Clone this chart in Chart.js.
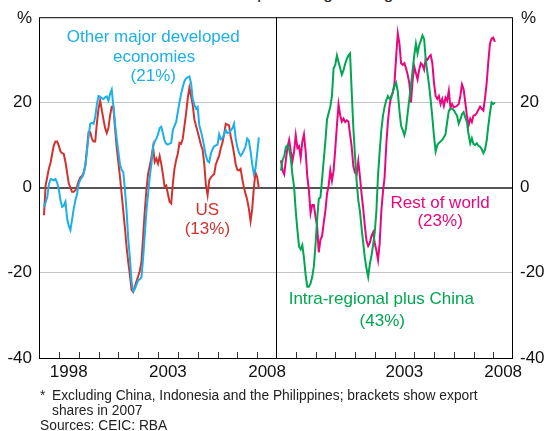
<!DOCTYPE html>
<html>
<head>
<meta charset="utf-8">
<script src="https://cdn.jsdelivr.net/npm/chart.js@4"></script>
<style>
body { margin: 0; background: #fff; font-family: "Liberation Sans", Arial, sans-serif; }
#wrap { position: relative; width: 548px; height: 431px; overflow: hidden; }
canvas { position: absolute; top: 0; }
#left { left: 0; }
#right { left: 276px; }
#title { position: absolute; left: 0; width: 568px; top: -15px; text-align: center; font-size: 17px; line-height: 17px; color: #222; }
.note { position: absolute; font-size: 13.8px; line-height: 15px; color: #222; white-space: nowrap; }
</style>
</head>
<body>
<div id="wrap">
  <div id="title">Year-ended percentage change</div>
  <canvas id="left" width="300" height="431"></canvas>
  <canvas id="right" width="272" height="431"></canvas>
  <div class="note" style="left:40px; top:388px">*</div>
  <div class="note" style="left:52px; top:388px">Excluding China, Indonesia and the Philippines; brackets show export<br>shares in 2007</div>
  <div class="note" style="left:40px; top:418px">Sources: CEIC: RBA</div>
</div>
<script>
// monthly observations, Apr 1997 to Feb 2008
const months = [];
for (let k = 3; k <= 133; k++) months.push(1997 + k / 12);

const otherDeveloped = [
  -4.6, -3.5, -2.2, 0.8, 2.0, 1.9, 1.7, 2.0, 1.2, -0.5, -3.0, -4.5,
  -4.2, -3.3, -7.2, -9.0, -10.0, -7.5, -5.0, -3.0, -1.5, 0.8, 1.9, 2.4,
  3.2, 5.0, 8.5, 12.0, 15.0, 15.2, 15.0, 16.5, 19.5, 21.5, 21.3, 21.0,
  20.8, 21.2, 21.4, 20.4, 22.0, 23.0, 19.0, 15.0, 11.5, 8.5, 5.5, 4.2,
  3.6, -0.5, -5.5, -12.0, -16.5, -22.0, -24.3, -23.8, -22.8, -21.8, -21.5, -21.0,
  -16.5, -11.0, -5.5, -1.5, 2.5, 5.5, 9.5, 10.8, 11.5, 12.5, 14.0, 14.3,
  12.7, 11.0, 10.3, 10.1, 10.3, 10.5, 13.5, 14.5, 15.4, 17.8, 20.0, 22.0,
  23.6, 25.0, 25.6, 25.9, 26.1, 24.5, 20.8, 19.5, 18.5, 18.9, 14.6, 13.2,
  11.5, 9.5, 7.5, 6.2, 5.9, 8.0, 9.0, 9.7, 9.9, 10.1, 12.5, 11.3,
  11.6, 12.5, 13.5, 12.8, 12.9, 13.4, 13.9, 15.0, 11.5, 9.5, 8.2, 7.5,
  8.0, 8.8, 9.7, 11.5, 11.0, 8.5, 5.5, 3.2, 4.5, 8.0, 11.8
];
const us = [
  -6.5, 0.5, 2.5, 4.5, 5.8, 8.0, 10.0, 10.8, 10.8, 9.8, 8.5, 8.1,
  7.9, 6.0, 3.5, 1.0, 0.0, -1.0, -1.0, -0.6, 0.3, 1.5, 2.4, 2.7,
  3.5, 5.2, 9.0, 13.0, 13.0, 11.5, 10.8, 10.8, 15.0, 18.5, 20.4, 18.2,
  16.0, 14.0, 12.8, 14.0, 16.9, 19.0, 19.0, 14.0, 9.5, 6.0, 2.5, -1.5,
  -5.5, -9.5, -14.0, -17.5, -20.5, -24.0, -24.5, -23.3, -22.0, -20.8, -19.5, -17.4,
  -11.5, -5.5, -0.5, 3.2, 5.0, 7.0, 9.5, 6.0, 6.8, 5.6, 7.4, 5.5,
  3.0, 0.2, 0.5, -1.5, -3.3, -3.7, 1.0, 4.5, 6.5, 8.0, 10.5, 10.3,
  11.5, 14.5, 17.5, 21.0, 23.4, 21.5, 19.5, 16.0, 14.5, 13.1, 11.5, 10.0,
  8.9, 5.5, 0.5, -1.8, 1.7, 2.4, 2.8, 3.2, 5.5, 6.5, 7.5, 9.3,
  10.5, 12.5, 15.0, 14.8, 14.6, 12.0, 10.2, 8.0, 5.5, 4.2, 4.0, 4.4,
  2.0, 0.0, -1.5, -2.9, -5.0, -7.9, -5.0, 0.0, 3.5, 2.5, -0.2
];
const intraRegional = [
  4.0, 6.5, 7.4, 9.5, 10.0, 9.0, 6.8, 3.0, 0.1, -5.5, -10.0, -13.8,
  -14.5, -13.5, -16.5, -20.5, -23.3, -23.3, -22.5, -21.0, -18.5, -13.5, -7.5, -2.6,
  -2.3, 2.0, 6.5, 10.8, 16.0, 17.5, 19.0, 21.5, 28.0, 28.8, 31.0, 29.5,
  28.0, 26.5, 27.5, 29.0, 30.2, 31.0, 31.5, 22.5, 14.0, 7.5, 1.5, -3.0,
  -5.5, -9.5, -13.0, -16.5, -19.0, -21.0, -18.0, -16.0, -13.5, -10.5, -5.5, 3.0,
  8.5, 13.5, 16.9, 19.0, 20.5, 21.5, 20.8, 21.0, 22.5, 23.8, 24.6, 22.5,
  18.0, 14.5, 13.5, 12.3, 14.0, 17.5, 20.8, 24.0, 27.5, 31.0, 33.8, 31.5,
  33.4, 34.5, 35.7, 34.9, 30.0, 27.0, 24.0, 20.5, 16.5, 12.0, 8.5, 10.0,
  10.5, 10.8, 11.2, 11.8, 12.5, 15.4, 18.0, 18.5, 18.5, 18.2, 17.5, 16.9,
  15.0, 16.0, 17.2, 17.7, 16.5, 15.4, 12.5, 10.4, 11.6, 10.2, 10.0, 10.4,
  9.8, 9.6, 9.0, 8.1, 8.9, 11.0, 14.5, 17.5, 20.0, 19.6, 20.0
];
const restOfWorld = [
  6.4, 4.0, 3.1, 6.5, 9.5, 11.2, 8.5, 6.2, 8.5, 12.3, 9.3, 9.7,
  7.0, 10.8, 12.5, 8.5, 2.7, -0.7, -6.0, -4.1, -4.1, -6.8, -9.1, -15.2,
  -12.2, -11.4, -8.3, -5.5, -1.5, 0.5, 4.0, 1.6, 4.0, 9.0, 14.5, 19.5,
  17.0, 15.5, 16.2, 15.4, 15.8, 15.5, 12.5, 9.5, 5.0, 3.5, 3.1, 6.2,
  2.5, -1.5, -5.0, -9.1, -12.5, -13.7, -13.0, -11.4, -10.5, -13.0, -14.8, -17.0,
  -13.0, -5.5, -1.0, 2.5, 10.0, 15.5, 19.2, 21.5, 22.3, 24.6, 30.7, 36.2,
  33.8, 29.2, 28.8, 29.2, 28.0, 26.5, 24.6, 20.0, 25.0, 28.4, 26.9, 25.4,
  27.7, 29.2, 28.8, 27.7, 30.3, 30.0, 30.7, 31.1, 29.2, 24.6, 21.5, 20.8,
  21.5, 19.6, 20.8, 19.2, 21.1, 20.4, 22.7, 18.8, 19.6, 18.8, 19.0, 19.2,
  19.6, 21.5, 24.2, 23.1, 20.0, 16.9, 14.6, 16.2, 15.4, 16.9, 17.0, 17.5,
  18.3, 19.0, 18.5, 18.1, 21.0, 24.5, 29.5, 33.8, 35.0, 35.2, 34.2
];

const yearTicks = [1998, 1999, 2000, 2001, 2002, 2003, 2004, 2005, 2006, 2007, 2008];
const leftYearLabels = [1998, 2003, 2008];
const rightYearLabels = [2003, 2008];

const FONT = '"Liberation Sans", Arial, sans-serif';
const BLUE = '#1cafe8', RED = '#d0332f', PINK = '#e8077f', GREEN = '#00a651';

// box round the panel, inward year ticks, % sign and series labels
const framePlugin = {
  id: 'frame',
  afterDatasetsDraw(chart, args, opts) {
    const { ctx, chartArea: a, scales } = chart;
    ctx.save();
    ctx.strokeStyle = '#000';
    ctx.lineWidth = 1;
    ctx.strokeRect(a.left + 0.5, a.top + 0.5, a.right - a.left - 1, a.bottom - a.top);
    ctx.strokeStyle = '#333';
    ctx.beginPath();
    yearTicks.forEach(y => {
      const px = Math.round(scales.x.getPixelForValue(y)) + 0.5;
      ctx.moveTo(px, a.bottom);
      ctx.lineTo(px, a.bottom - 6);
    });
    ctx.stroke();

    ctx.font = '17px ' + FONT;
    ctx.fillStyle = '#111';
    ctx.textBaseline = 'middle';
    if (opts.side === 'left') {
      ctx.textAlign = 'right';
      ctx.fillText('%', a.left - 7, 18);
    } else {
      ctx.textAlign = 'left';
      ctx.fillText('%', a.right + 8, 18);
    }

    ctx.textAlign = 'center';
    (opts.labels || []).forEach(l => {
      ctx.fillStyle = l.color;
      ctx.fillText(l.text, scales.x.getPixelForValue(l.x), scales.y.getPixelForValue(l.y));
    });
    ctx.restore();
  }
};

function makeChart(id, side, series, yearLabels, labels) {
  return new Chart(document.getElementById(id), {
    type: 'line',
    data: {
      datasets: series.map(s => ({
        label: s.name,
        data: months.map((m, i) => ({ x: m, y: s.values[i] })),
        borderColor: s.color,
        borderWidth: 2,
        pointRadius: 0,
        tension: 0,
        fill: false
      }))
    },
    options: {
      responsive: false,
      animation: false,
      devicePixelRatio: 1,
      layout: { padding: { top: 10, left: 0, right: side === 'left' ? 23 : 0, bottom: 0 } },
      plugins: {
        legend: { display: false },
        tooltip: { enabled: false },
        frame: { side: side, labels: labels }
      },
      scales: {
        x: {
          type: 'linear',
          min: 1997,
          max: 2009,
          grid: { display: false, drawTicks: false },
          border: { display: false },
          afterBuildTicks: sc => { sc.ticks = yearLabels.map(y => ({ value: y + 0.5 })); },
          afterFit: sc => { sc.height = 73; },
          ticks: {
            autoSkip: false,
            maxRotation: 0,
            padding: 4,
            color: '#111',
            font: { size: 17, family: FONT },
            callback: v => String(Math.floor(v))
          }
        },
        y: {
          position: side,
          min: -40,
          max: 40,
          afterFit: sc => { sc.width = side === 'left' ? 39 : 35; },
          border: { display: false },
          grid: {
            drawTicks: false,
            color: c => c.tick.value === 0 ? '#555' : (Math.abs(c.tick.value) === 40 ? 'rgba(0,0,0,0)' : '#c4c4c4'),
            lineWidth: c => c.tick.value === 0 ? 2 : 1
          },
          ticks: {
            stepSize: 20,
            padding: 7,
            color: '#111',
            font: { size: 17, family: FONT },
            callback: v => v === 40 ? '' : String(v)
          }
        }
      }
    },
    plugins: [framePlugin]
  });
}

makeChart('left', 'left',
  [
    { name: 'Other major developed economies', values: otherDeveloped, color: BLUE },
    { name: 'US', values: us, color: RED }
  ],
  leftYearLabels,
  [
    { text: 'Other major developed', x: 2002.76, y: 35.2, color: BLUE },
    { text: 'economies', x: 2002.8, y: 30.6, color: BLUE },
    { text: '(21%)', x: 2002.76, y: 26.2, color: BLUE },
    { text: 'US', x: 2005.49, y: -5.3, color: RED },
    { text: '(13%)', x: 2005.49, y: -9.9, color: RED }
  ]
);

makeChart('right', 'right',
  [
    { name: 'Intra-regional plus China', values: intraRegional, color: GREEN },
    { name: 'Rest of world', values: restOfWorld, color: PINK }
  ],
  rightYearLabels,
  [
    { text: 'Rest of world', x: 2005.31, y: -3.7, color: PINK },
    { text: '(23%)', x: 2005.31, y: -8.0, color: PINK },
    { text: 'Intra-regional plus China', x: 2002.33, y: -26.3, color: GREEN },
    { text: '(43%)', x: 2002.38, y: -31.3, color: GREEN }
  ]
);
</script>
</body>
</html>
